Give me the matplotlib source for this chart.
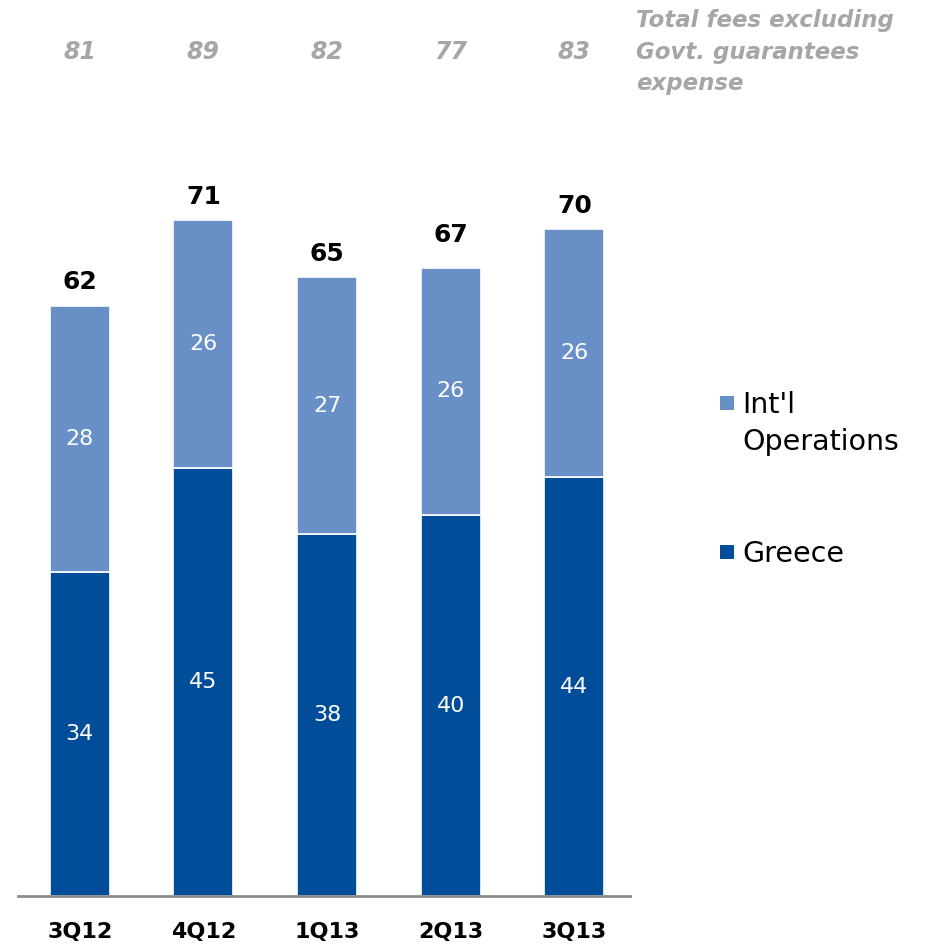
import numpy as np
import matplotlib
matplotlib.use("Agg")
import matplotlib.pyplot as plt
from matplotlib.patches import Rectangle
from matplotlib.transforms import blended_transform_factory

plt.rcParams['font.family'] = ['DejaVu Sans']

quarters = ["3Q12", "4Q12", "1Q13", "2Q13", "3Q13"]
greece = [34, 45, 38, 40, 44]
intl = [28, 26, 27, 26, 26]
totals = [62, 71, 65, 67, 70]
fees_ex_govt = [81, 89, 82, 77, 83]

GREECE_BLUE = "#024D9A"
INTL_BLUE = "#6890C6"
GREY_TXT = "#A6A6A6"

fig = plt.figure(figsize=(9.37, 9.44), dpi=100)
W, H = 937, 944
# axes box in pixels: left 18, right 630, baseline 896, top 100
ax = fig.add_axes([18 / W, (H - 896) / H, (630 - 18) / W, (896 - 100) / H])

x = np.arange(len(quarters))
width = 0.485
ax.bar(x, greece, width, color=GREECE_BLUE, edgecolor="white", linewidth=1.2)
ax.bar(x, intl, width, bottom=greece, color=INTL_BLUE, edgecolor="white", linewidth=1.2)

ax.set_xlim(-0.5, 4.45)
ax.set_ylim(0, 83.6)

for s in ["top", "right", "left"]:
    ax.spines[s].set_visible(False)
ax.spines["bottom"].set_color("#8C8C8C")
ax.spines["bottom"].set_linewidth(2)
ax.set_yticks([])
ax.set_xticks(x)
ax.set_xticklabels(quarters, fontsize=16, fontweight="bold")
ax.tick_params(axis="x", length=0, pad=19)

# segment values inside the bars, totals on top
for i in range(len(quarters)):
    ax.text(x[i], greece[i] / 2, str(greece[i]), ha="center", va="center",
            color="white", fontsize=16)
    ax.text(x[i], greece[i] + intl[i] / 2, str(intl[i]), ha="center", va="center",
            color="white", fontsize=16)
    ax.text(x[i], totals[i] + 1.2, str(totals[i]), ha="center", va="bottom",
            color="black", fontsize=18, fontweight="bold")

# fee totals row above the chart
row = blended_transform_factory(ax.transData, fig.transFigure)
for i in range(len(quarters)):
    ax.text(x[i], 1 - 52 / H, str(fees_ex_govt[i]), transform=row,
            ha="center", va="center", color=GREY_TXT, fontsize=17,
            fontweight="bold", fontstyle="italic")

fig.text(636 / W, 1 - 52 / H, "Total fees excluding\nGovt. guarantees\nexpense",
         ha="left", va="center", color=GREY_TXT, fontsize=16.5,
         fontweight="bold", fontstyle="italic", linespacing=1.45)

# legend drawn by hand: square at the first line of each label
legend_items = [(INTL_BLUE, "Int'l\nOperations", 402), (GREECE_BLUE, "Greece", 551)]
for color, label, ypx in legend_items:
    fig.add_artist(Rectangle((720 / W, 1 - (ypx + 8) / H), 14 / W, 14 / H,
                             transform=fig.transFigure, facecolor=color,
                             edgecolor="none"))
    fig.text(742 / W, 1 - (ypx - 11) / H, label, ha="left", va="top",
             fontsize=20.5, color="black", linespacing=1.42)

fig.savefig("out.png", dpi=100)
